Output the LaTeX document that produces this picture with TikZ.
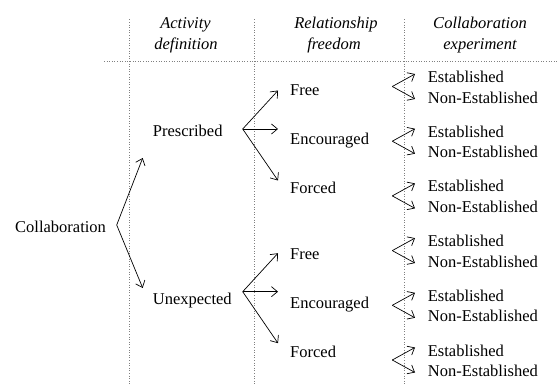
\documentclass[tikz,border=0pt]{standalone}
\usepackage{fontspec}
\setmainfont{Liberation Serif}
\usetikzlibrary{arrows.meta}
\tikzset{
  lbl/.style={anchor=base west, inner sep=0pt, font=\fontsize{16.5}{20}\selectfont},
  hdr/.style={anchor=base, inner sep=0pt, font=\fontsize{16.5}{20}\selectfont\itshape},
  grid/.style={dotted, line width=0.6pt, gray},
  arr/.style={line width=0.7pt, -{Straight Barb[length=6pt,width=10pt]}}
}
\begin{document}
\begin{tikzpicture}[x=1pt,y=-1pt]
\useasboundingbox (0,0) rectangle (558,385);
% grid
\draw[grid] (129.5,19.5) -- (129.5,385);
\draw[grid] (254.7,19.5) -- (254.7,385);
\draw[grid] (404.5,19.5) -- (404.5,385);
\draw[grid] (104,61) -- (558,61);
% headers
\node[hdr] (hA1) at (185.5,28.3) {Activity};
\node[hdr] (hA2) at (186,50) {definition};
\node[hdr] (hR1) at (336,28.3) {Relationship};
\node[hdr] (hR2) at (334,50) {freedom};
\node[hdr] (hC1) at (480,28.3) {Collaboration};
\node[hdr] (hC2) at (480,50) {experiment};
% level 0/1
\node[lbl] (collab) at (15,232.3) {Collaboration};
\node[lbl] (pres) at (152.7,136.7) {Prescribed};
\node[lbl] (unex) at (152.7,304.5) {Unexpected};
\coordinate (bc) at (116.7,225);
\coordinate (tp) at (142.7,158);
\coordinate (tu) at (142.7,288);
\draw[arr] (bc) -- (tp);
\draw[arr] (bc) -- (tu);
% level 2
\foreach \nm/\dy/\by in {p/0/129, u/164/291.7}{
  \node[lbl] (free\nm) at (290,96+\dy) {Free};
  \node[lbl] (enc\nm) at (290,145+\dy) {Encouraged};
  \node[lbl] (forc\nm) at (290,194+\dy) {Forced};
  \coordinate (b\nm) at (242.7,\by);
  \coordinate (tf\nm) at (278,\by-38.5);
  \coordinate (te\nm) at (278,\by);
  \coordinate (to\nm) at (278,\by+51.5);
  \draw[arr] (b\nm) -- (tf\nm);
  \draw[arr] (b\nm) -- (te\nm);
  \draw[arr] (b\nm) -- (to\nm);
}
% level 3
\foreach \k in {0,...,5}{
  \pgfmathsetmacro{\ey}{82.5+54.7*\k}
  \node[lbl] (est\k) at (427.7,\ey) {Established};
  \node[lbl] (non\k) at (427.7,\ey+20.7) {Non-Established};
  \coordinate (g\k) at (392.3,\ey+4);
  \coordinate (ge\k) at (415,\ey-8.5);
  \coordinate (gn\k) at (415,\ey+16.5);
  \draw[arr] (g\k) -- (ge\k);
  \draw[arr] (g\k) -- (gn\k);
}
\end{tikzpicture}
\end{document}
